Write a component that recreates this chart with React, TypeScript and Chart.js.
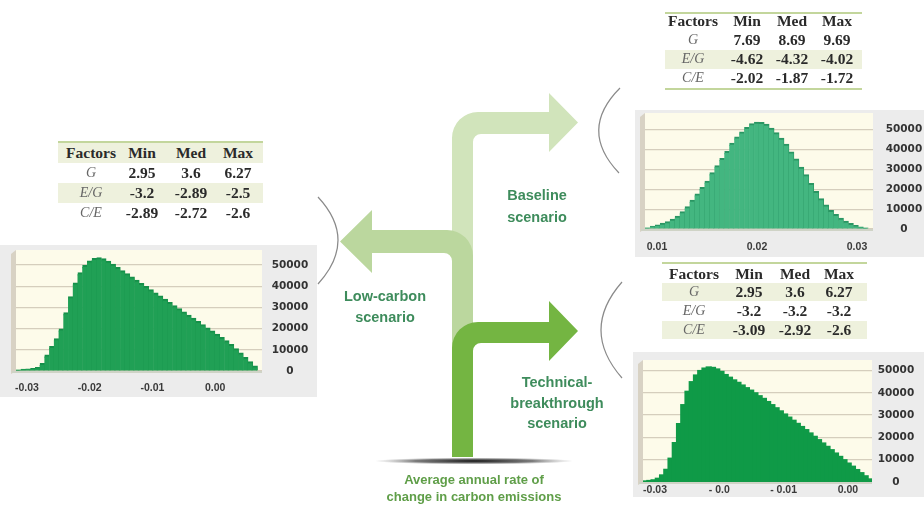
import React, { useEffect, useRef } from "react";
import { Chart, registerables } from "chart.js";

Chart.register(...registerables);

// ---------- DATA ----------
// Low-carbon scenario histogram (counts per bin, left to right)
const LOW_COUNTS = [400, 800, 950, 1100, 1600, 3500, 7500, 11500, 15200, 19800, 27500, 35000, 41500, 46300, 49700, 51900, 53100, 53400, 52900, 51800, 50300, 48800, 47300, 45800, 44300, 42800, 41300, 39800, 38300, 36800, 35300, 33800, 32300, 30800, 29300, 27800, 26300, 24800, 23300, 21800, 20300, 18800, 17300, 15800, 14200, 12400, 10500, 8400, 6300, 4300, 2300, 0];
const LOW_RANGE = [-0.03175, 0.00748];
const LOW_TICKS = [-0.03, -0.02, -0.01, 0];
const LOW_TICK_LABELS = ["-0.03", "-0.02", "-0.01", "0.00"];

// Baseline scenario histogram
const BASE_COUNTS = [500, 1300, 2000, 2800, 3600, 4800, 6400, 8600, 11100, 14400, 17600, 20800, 24000, 28200, 31800, 35400, 38900, 43000, 46200, 48700, 50900, 52800, 53600, 53500, 52600, 50600, 48300, 45600, 42500, 38700, 35100, 31000, 27200, 22800, 18800, 15100, 12000, 9300, 7200, 5300, 3800, 2700, 1700, 900, 400, 0];
const BASE_RANGE = [0.0088, 0.0316];
const BASE_TICKS = [0.01, 0.02, 0.03];
const BASE_TICK_LABELS = ["0.01", "0.02", "0.03"];

// Technical-breakthrough scenario histogram
const TECH_COUNTS = [300, 500, 800, 1500, 3000, 5500, 10500, 17500, 26000, 34500, 40500, 44800, 47800, 49800, 50900, 51400, 51200, 50500, 49400, 48000, 46800, 45600, 44500, 43300, 42100, 41000, 39800, 38500, 37300, 35900, 34500, 33100, 31700, 30300, 28900, 27500, 26100, 24700, 23300, 21800, 20300, 18800, 17300, 15800, 14300, 12800, 11300, 9800, 8300, 6900, 5400, 4000, 2600, 1200];
const TECH_RANGE = [-0.03187, 0.00375];
const TECH_TICKS = [-0.03, -0.02, -0.01, 0];
const TECH_TICK_LABELS = ["-0.03", "- 0.0", "- 0.01", "0.00"];

const Y_TICKS = [0, 10000, 20000, 30000, 40000, 50000];

// Tables
const TABLE_HEADER = ["Factors", "Min", "Med", "Max"];
const FACTORS = ["G", "E/G", "C/E"];
const LOW_TABLE = [["2.95", "3.6", "6.27"], ["-3.2", "-2.89", "-2.5"], ["-2.89", "-2.72", "-2.6"]];
const BASE_TABLE = [["7.69", "8.69", "9.69"], ["-4.62", "-4.32", "-4.02"], ["-2.02", "-1.87", "-1.72"]];
const TECH_TABLE = [["2.95", "3.6", "6.27"], ["-3.2", "-3.2", "-3.2"], ["-3.09", "-2.92", "-2.6"]];

// Labels
const LOW_LABEL = ["Low-carbon", "scenario"];
const BASE_LABEL = ["Baseline", "scenario"];
const TECH_LABEL = ["Technical-", "breakthrough", "scenario"];
const CAPTION = ["Average annual rate of", "change in carbon emissions"];

// ---------- STYLE ----------
const SANS = '"Liberation Sans", Arial, sans-serif';
const SERIF = '"Liberation Serif", "Times New Roman", serif';
const PANEL = "#ececec";
const SHADE = "#eef1dd";
const RULE = "#c3d69c";

const plotBg = {
  id: "plotBg",
  beforeDraw(chart: any) {
    const { ctx, chartArea: a } = chart;
    ctx.save();
    ctx.fillStyle = "#fdfbea";
    ctx.fillRect(a.left, a.top, a.right - a.left, a.bottom - a.top);
    ctx.fillStyle = "#d8d2c4";
    ctx.beginPath();
    ctx.moveTo(a.left - 5, a.top + 4);
    ctx.lineTo(a.left, a.top);
    ctx.lineTo(a.left, a.bottom);
    ctx.lineTo(a.left - 5, a.bottom + 3);
    ctx.closePath();
    ctx.fill();
    ctx.restore();
  },
  afterDatasetsDraw(chart: any) {
    const { ctx, chartArea: a } = chart;
    ctx.save();
    ctx.strokeStyle = "#cfd3c6";
    ctx.lineWidth = 2;
    ctx.beginPath();
    ctx.moveTo(a.left - 4, a.bottom + 1);
    ctx.lineTo(a.right, a.bottom + 1);
    ctx.stroke();
    ctx.restore();
  },
};

type HistProps = {
  counts: number[];
  range: number[];
  ticks: number[];
  tickLabels: string[];
  yMax: number;
  left: number;
  top: number;
  w: number;
  h: number;
  padL: number;
  padT: number;
  yW: number;
  xH: number;
  yPad: number;
  xPad: number;
  fill: string;
  edge: string;
  border: any;
  inflate: any;
};

function Histogram(p: HistProps) {
  const ref = useRef<HTMLCanvasElement>(null);
  useEffect(() => {
    const chart = new Chart(ref.current as HTMLCanvasElement, {
      type: "bar",
      data: {
        labels: p.counts.map((_, i) => String(i)),
        datasets: [
          {
            data: p.counts,
            xAxisID: "x",
            yAxisID: "y",
            backgroundColor: p.fill,
            borderColor: p.edge,
            borderWidth: p.border,
            borderSkipped: false,
            inflateAmount: p.inflate,
            barPercentage: 1,
            categoryPercentage: 1,
          } as any,
        ],
      },
      options: {
        responsive: false,
        animation: false,
        layout: { padding: { left: p.padL, top: p.padT, right: 0, bottom: 0 } },
        plugins: { legend: { display: false }, tooltip: { enabled: false } },
        scales: {
          x: { type: "category", display: false, offset: true, grid: { display: false } },
          xv: {
            type: "linear",
            position: "bottom",
            offset: false,
            min: p.range[0],
            max: p.range[1],
            grid: { display: false, drawTicks: false, offset: false },
            border: { display: false },
            afterBuildTicks: (s: any) => {
              s.ticks = p.ticks.map((v) => ({ value: v }));
            },
            afterFit: (s: any) => {
              s.height = p.xH;
              s.paddingLeft = 0;
              s.paddingRight = 0;
            },
            ticks: {
              autoSkip: false,
              maxRotation: 0,
              minRotation: 0,
              padding: p.xPad,
              color: "#3a3a3a",
              font: { family: SANS, size: 10.5, weight: "bold" },
              callback: (_v: any, i: number) => p.tickLabels[i],
            },
          },
          y: {
            position: "right",
            min: 0,
            max: p.yMax,
            afterBuildTicks: (s: any) => {
              s.ticks = Y_TICKS.map((v) => ({ value: v }));
            },
            afterFit: (s: any) => {
              s.width = p.yW;
              s.paddingTop = 0;
              s.paddingBottom = 0;
            },
            grid: { color: "#d5cebd", drawTicks: false, lineWidth: 1.2 },
            border: { display: false },
            ticks: {
              padding: p.yPad,
              crossAlign: "center",
              color: "#333",
              font: { family: '"DejaVu Sans", sans-serif', size: 10.5, weight: "bold" },
              callback: (v: any) => String(v),
            },
          },
        } as any,
      },
      plugins: [plotBg],
    });
    return () => chart.destroy();
  }, []);
  return (
    <div style={{ position: "absolute", left: p.left, top: p.top, width: p.w, height: p.h }}>
      <canvas ref={ref} width={p.w} height={p.h} style={{ display: "block", width: p.w, height: p.h }} />
    </div>
  );
}

type TableProps = {
  x0: number;
  x1: number;
  lineY: number;
  bottomY?: number;
  rowY: number[];
  rowH: number;
  shade: boolean[];
  colX: number[];
  values: string[][];
};

function FactorTable(t: TableProps) {
  const cell = (key: string, x: number, y: number, text: string, italic: boolean) => (
    <div
      key={key}
      style={{
        position: "absolute",
        left: x,
        top: y,
        transform: "translate(-50%, -50%)",
        whiteSpace: "nowrap",
        fontFamily: SERIF,
        fontSize: italic ? 14 : 15.5,
        fontStyle: italic ? "italic" : "normal",
        fontWeight: italic ? "normal" : "bold",
        color: italic ? "#666" : "#2a2a2a",
        lineHeight: 1,
      }}
    >
      {text}
    </div>
  );
  const out: any[] = [];
  t.shade.forEach((s, r) => {
    if (s)
      out.push(
        <div key={"sh" + r} style={{ position: "absolute", left: t.x0, width: t.x1 - t.x0, top: t.rowY[r] - t.rowH / 2, height: t.rowH, background: SHADE }} />
      );
  });
  out.push(<div key="top" style={{ position: "absolute", left: t.x0, width: t.x1 - t.x0, top: t.lineY, height: 2, background: RULE }} />);
  if (t.bottomY !== undefined)
    out.push(<div key="bot" style={{ position: "absolute", left: t.x0, width: t.x1 - t.x0, top: t.bottomY, height: 2, background: RULE }} />);
  TABLE_HEADER.forEach((h, c) => out.push(cell("h" + c, t.colX[c], t.rowY[0], h, false)));
  FACTORS.forEach((f, r) => {
    out.push(cell("f" + r, t.colX[0], t.rowY[r + 1], f, true));
    t.values[r].forEach((v, c) => out.push(cell("v" + r + c, t.colX[c + 1], t.rowY[r + 1], v, false)));
  });
  return <>{out}</>;
}

function TextBlock({ lines, cx, ys, color, size }: { lines: string[]; cx: number; ys: number[]; color: string; size: number }) {
  return (
    <>
      {lines.map((l, i) => (
        <div
          key={i}
          style={{
            position: "absolute",
            left: cx,
            top: ys[i],
            transform: "translate(-50%, -50%)",
            whiteSpace: "nowrap",
            fontFamily: SANS,
            fontWeight: "bold",
            fontSize: size,
            color,
            lineHeight: 1,
          }}
        >
          {l}
        </div>
      ))}
    </>
  );
}

export default function App() {
  return (
    <div style={{ position: "fixed", left: 0, top: 0, width: 924, height: 507, overflow: "hidden", background: "#fff" }}>
      {/* panels */}
      <div style={{ position: "absolute", left: 0, top: 245, width: 317, height: 152, background: PANEL }} />
      <div style={{ position: "absolute", left: 635, top: 110, width: 289, height: 147, background: PANEL }} />
      <div style={{ position: "absolute", left: 633, top: 352, width: 291, height: 145, background: PANEL }} />

      <Histogram
        counts={LOW_COUNTS} range={LOW_RANGE} ticks={LOW_TICKS} tickLabels={LOW_TICK_LABELS}
        yMax={57100} left={0} top={244} w={318} h={154} padL={16} padT={6} yW={56} xH={27} yPad={9.7} xPad={10.5}
        fill="#20a055" edge="#16904a" border={{ top: 2, right: 0.6, left: 0, bottom: 0 }} inflate={0.6}
      />
      <Histogram
        counts={BASE_COUNTS} range={BASE_RANGE} ticks={BASE_TICKS} tickLabels={BASE_TICK_LABELS}
        yMax={58300} left={633} top={108} w={291} h={151} padL={12} padT={5} yW={51} xH={30} yPad={12.7} xPad={11.5}
        fill="#43b680" edge="#2a9663" border={{ top: 2, right: 0.8, left: 0, bottom: 0 }} inflate={0.6}
      />
      <Histogram
        counts={TECH_COUNTS} range={TECH_RANGE} ticks={TECH_TICKS} tickLabels={TECH_TICK_LABELS}
        yMax={54700} left={633} top={352} w={291} h={147} padL={10} padT={8} yW={52} xH={17} yPad={5.7} xPad={1.5}
        fill="#0f9a47" edge="#0f9a47" border={0} inflate={1}
      />

      {/* arrows and brackets */}
      <svg width={924} height={507} style={{ position: "absolute", left: 0, top: 0 }}>
        <defs>
          <radialGradient id="shadow" cx="50%" cy="50%" r="50%">
            <stop offset="0%" stopColor="#111" stopOpacity="1" />
            <stop offset="60%" stopColor="#444" stopOpacity="0.7" />
            <stop offset="100%" stopColor="#888" stopOpacity="0" />
          </radialGradient>
        </defs>
        <ellipse cx={474} cy={461} rx={100} ry={3.5} fill="url(#shadow)" />
        <path d="M 452 456 L 452 138 A 26 26 0 0 1 478 112 L 549 112 L 549 93 L 578 122.5 L 549 152 L 549 134 L 481 134 A 8 8 0 0 0 473 142 L 473 456 Z" fill="#d1e4bb" />
        <path d="M 473 456 L 473 256 A 26 26 0 0 0 447 230 L 372 230 L 372 210 L 340 241.5 L 372 273 L 372 253 L 444 253 A 8 8 0 0 1 452 261 L 452 456 Z" fill="#bbd79e" />
        <path d="M 452 457 L 452 348 A 26 26 0 0 1 478 322 L 549 322 L 549 301 L 578 331 L 549 361 L 549 343 L 481 343 A 8 8 0 0 0 473 351 L 473 457 Z" fill="#74b542" />
        <path d="M 318 197 Q 358 240 318 284" fill="none" stroke="#8a8a8a" strokeWidth={1.2} />
        <path d="M 620 88 Q 578 130 619 173" fill="none" stroke="#8a8a8a" strokeWidth={1.2} />
        <path d="M 622 282 Q 580 330 622 378" fill="none" stroke="#8a8a8a" strokeWidth={1.2} />
      </svg>

      {/* tables */}
      <FactorTable x0={58} x1={263} lineY={141} rowY={[153, 173, 193, 213]} rowH={20} shade={[true, false, true, false]} colX={[91, 142, 191, 238]} values={LOW_TABLE} />
      <FactorTable x0={665} x1={862} lineY={12} bottomY={88} rowY={[21, 40, 59, 78]} rowH={19} shade={[false, false, true, false]} colX={[693, 747, 792, 837]} values={BASE_TABLE} />
      <FactorTable x0={662} x1={867} lineY={262} rowY={[274, 292, 311, 330]} rowH={18.5} shade={[false, true, false, true]} colX={[694, 749, 795, 839]} values={TECH_TABLE} />

      {/* labels */}
      <TextBlock lines={BASE_LABEL} cx={537} ys={[195, 217]} color="#3e8c5c" size={14.5} />
      <TextBlock lines={LOW_LABEL} cx={385} ys={[296, 317]} color="#3e8c5c" size={14.5} />
      <TextBlock lines={TECH_LABEL} cx={557} ys={[382, 403, 423]} color="#3e8c5c" size={14.5} />
      <TextBlock lines={CAPTION} cx={474} ys={[479, 496]} color="#5f9e48" size={13} />
    </div>
  );
}
